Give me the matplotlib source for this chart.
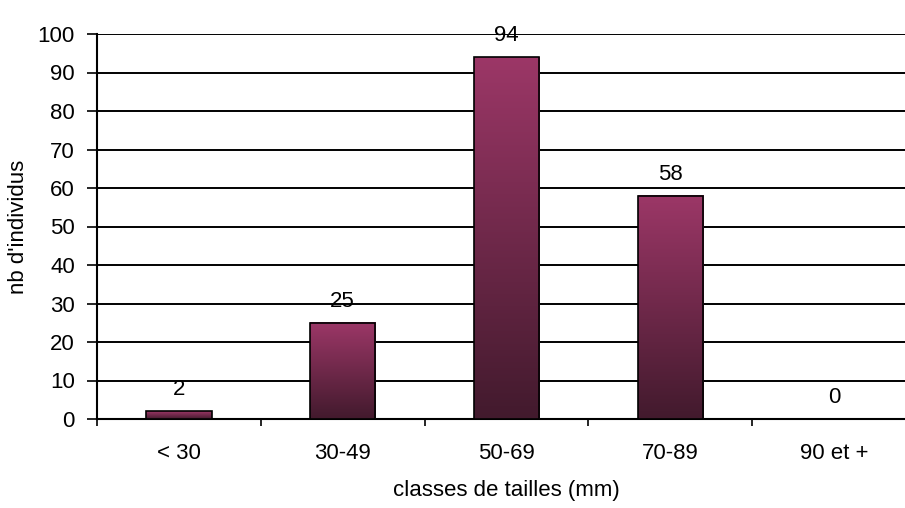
import numpy as np
import matplotlib
matplotlib.use("Agg")
import matplotlib.pyplot as plt
from matplotlib.colors import LinearSegmentedColormap

plt.rcParams['font.family'] = ['Liberation Sans', 'DejaVu Sans']

categories = ["< 30", "30-49", "50-69", "70-89", "90 et +"]
counts = [2, 25, 94, 58, 0]

fig = plt.figure(figsize=(9.05, 5.08), dpi=100)
ax = fig.add_axes([97 / 905, 89 / 508, (916 - 97) / 905, 385 / 508])

cmap = LinearSegmentedColormap.from_list("bar", ["#421a2d", "#9c3767"])
grad = np.linspace(0, 1, 256).reshape(-1, 1)
width = 0.4

x = np.arange(len(categories))
for xi, v in zip(x, counts):
    if v > 0:
        ax.imshow(grad, cmap=cmap, aspect="auto", origin="lower",
                  extent=(xi - width / 2, xi + width / 2, 0, v), zorder=3)
        ax.bar(xi, v, width=width, facecolor="none", edgecolor="black",
               linewidth=1.2, zorder=4)
    ax.annotate(str(v), (xi, v), xytext=(0, 8), textcoords="offset points",
                ha="center", va="bottom", fontsize=16)

ax.set_xlim(-0.5, len(categories) - 0.5)
ax.set_ylim(0, 100)
ax.set_yticks(range(0, 101, 10))
ax.yaxis.grid(True, color="black", linewidth=1.4)
ax.set_axisbelow(True)

ax.set_xticks(x)
ax.set_xticklabels(categories, fontsize=16)
ax.set_xticks(np.arange(-0.5, len(categories), 1), minor=True)
ax.tick_params(axis="x", which="major", length=0, pad=17)
ax.tick_params(axis="x", which="minor", length=5, width=1.2, direction="out")
ax.tick_params(axis="y", labelsize=16, length=7, width=1.2, direction="out", pad=9)

for s in ["top", "right"]:
    ax.spines[s].set_visible(False)
ax.spines["left"].set_linewidth(1.5)
ax.spines["bottom"].set_linewidth(1.5)

ax.set_xlabel("classes de tailles (mm)", fontsize=16, labelpad=12)
ax.set_ylabel("nb d'individus", fontsize=16, labelpad=6)

fig.savefig("out.png", dpi=100)
